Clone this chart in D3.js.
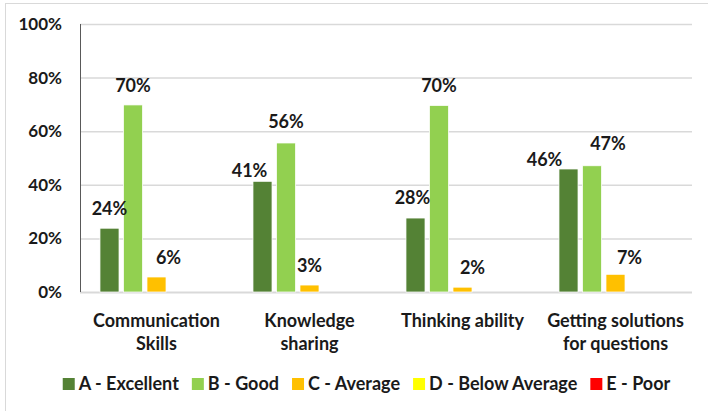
<!DOCTYPE html>
<html>
<head>
<meta charset="utf-8">
<script src="https://cdn.jsdelivr.net/npm/d3@7"></script>
<style>
  body { margin: 0; background: #fff; }
  svg text { font-family: Lato, "Open Sans", sans-serif; font-weight: bold; fill: #1a1a1a; }
</style>
</head>
<body>
<script>
// data (percent)
const categories = ["Communication Skills", "Knowledge sharing", "Thinking ability", "Getting solutions for questions"];
const categoryLines = [["Communication", "Skills"], ["Knowledge", "sharing"], ["Thinking ability"], ["Getting solutions", "for questions"]];
const series = ["A - Excellent", "B - Good", "C - Average", "D - Below Average", "E - Poor"];
const excellent = [23.8, 41.3, 27.6, 45.9];
const good      = [69.8, 55.6, 69.6, 47.1];
const average   = [5.6, 2.6, 1.8, 6.6];
const belowAvg  = [0, 0, 0, 0];
const poor      = [0, 0, 0, 0];
const yTicks = [0, 20, 40, 60, 80, 100];

const colors = ["#548235", "#92d050", "#ffc000", "#ffff00", "#ff0000"];
// manual label offsets (dx, dy) like the original chart
const labelNudge = {
  "0-2": [12, 0], "1-0": [-13, 8.5], "1-1": [0, -2], "2-0": [-3, -1], "2-2": [10, 0],
  "3-0": [-24, 10.5], "3-1": [16, -3], "3-2": [14, 3]
};

const values = [excellent, good, average, belowAvg, poor];
const rows = categories.map((c, i) => ({cat: c, i: i, vals: series.map((s, j) => ({s: s, j: j, v: values[j][i]}))}));

const w = 708, h = 411;
const margin = {top: 24, right: 16, bottom: 119, left: 80};

const svg = d3.select("body").append("svg")
    .attr("width", w)
    .attr("height", h);

// frame (only top and left edges show)
svg.append("rect")
    .attr("x", 5.5).attr("y", 3.5)
    .attr("width", 720).attr("height", 430)
    .attr("fill", "none")
    .attr("stroke", "#d9d9d9");

const y = d3.scaleLinear()
    .domain([0, 100])
    .range([h - margin.bottom, margin.top]);

const x0 = d3.scaleBand()
    .domain(categories)
    .range([margin.left, w - margin.right]);

const x1 = d3.scaleBand()
    .domain(series)
    .range([0, x0.bandwidth()])
    .paddingInner(0.19)
    .paddingOuter(0.85);

// gridlines + y labels
const yAxis = g => g
    .attr("transform", `translate(${margin.left},0)`)
    .call(d3.axisLeft(y).tickValues(yTicks).tickFormat(d => d + "%").tickSize(0).tickPadding(18))
    .call(g => g.select(".domain").remove())
    .call(g => g.selectAll(".tick text").attr("font-size", 17).attr("font-family", null).attr("fill", "#1a1a1a"))
    .call(g => g.selectAll(".tick line").clone()
        .attr("x2", w - margin.left - margin.right)
        .attr("stroke", "#d9d9d9")
        .attr("stroke-width", d => d === 0 ? 2 : 1.5));

svg.append("g").call(yAxis);

// y axis line
svg.append("line")
    .attr("x1", margin.left + 0.5).attr("x2", margin.left + 0.5)
    .attr("y1", y(100)).attr("y2", y(0))
    .attr("stroke", "#595959");

const groups = svg.append("g")
    .selectAll("g")
    .data(rows)
    .join("g")
    .attr("transform", d => `translate(${x0(d.cat)},0)`);

groups.selectAll("rect")
    .data(d => d.vals.filter(v => v.v > 0))
    .join("rect")
    .attr("x", d => x1(d.s))
    .attr("width", x1.bandwidth())
    .attr("y", d => y(d.v))
    .attr("height", d => y(0) - y(d.v))
    .attr("fill", d => colors[d.j])
    .attr("stroke", "#fff")
    .attr("stroke-width", 0.75);

groups.each(function(row) {
  d3.select(this).selectAll("text.val")
    .data(row.vals.filter(v => v.v > 0))
    .join("text")
    .attr("class", "val")
    .attr("font-size", 18)
    .attr("text-anchor", "middle")
    .attr("x", d => x1(d.s) + x1.bandwidth() / 2 + (labelNudge[row.i + "-" + d.j] || [0, 0])[0])
    .attr("y", d => y(d.v) - 13 + (labelNudge[row.i + "-" + d.j] || [0, 0])[1])
    .text(d => Math.round(d.v) + "%");
});

// category labels
svg.append("g")
    .selectAll("text")
    .data(rows)
    .join("text")
    .attr("font-size", 18)
    .attr("text-anchor", "middle")
    .attr("x", d => x0(d.cat) + x0.bandwidth() / 2)
    .attr("y", 326.5)
    .selectAll("tspan")
    .data(d => categoryLines[d.i].map(t => ({t: t, x: x0(d.cat) + x0.bandwidth() / 2})))
    .join("tspan")
    .attr("x", d => d.x)
    .attr("dy", (d, i) => i === 0 ? 0 : 23.5)
    .text(d => d.t);

// legend
const legend = svg.append("g");
let lx = 0;
series.forEach((s, j) => {
  const item = legend.append("g").attr("transform", `translate(${lx},0)`);
  item.append("rect")
    .attr("x", 0).attr("y", 378)
    .attr("width", 12).attr("height", 12)
    .attr("fill", colors[j]);
  const t = item.append("text")
    .attr("x", 16).attr("y", 389.5)
    .attr("font-size", 18)
    .text(s);
  lx += 16 + t.node().getComputedTextLength() + 13;
});
const legendWidth = lx - 13;
legend.attr("transform", `translate(${366.5 - legendWidth / 2},0)`);
</script>
</body>
</html>
